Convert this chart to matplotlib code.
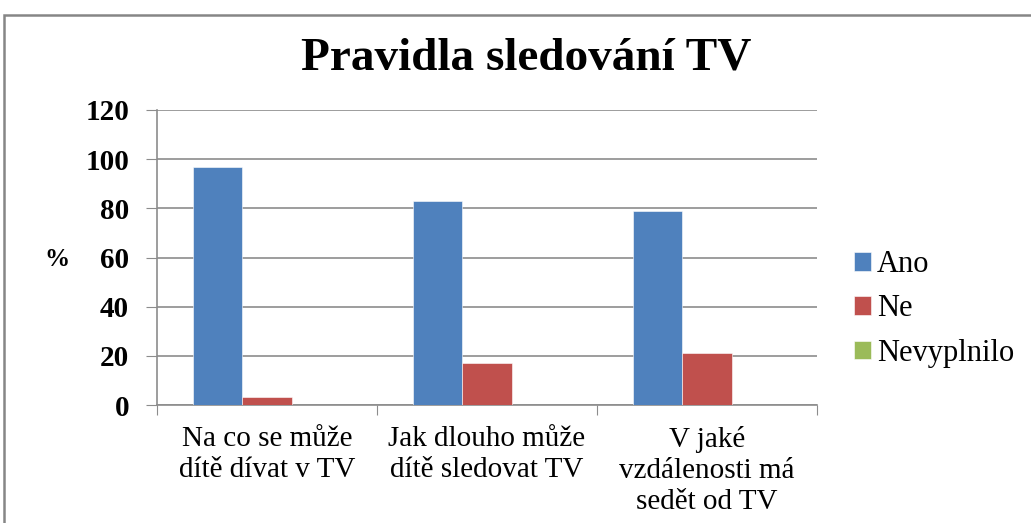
import matplotlib.pyplot as plt
import numpy as np
from matplotlib.patches import Rectangle

# data
categories = ['Na co se může\ndítě dívat v TV',
              'Jak dlouho může\ndítě sledovat TV',
              'V jaké\nvzdálenosti má\nsedět od TV']
series = ['Ano', 'Ne', 'Nevyplnilo']
ano = [96.7, 83, 79]
ne = [3.3, 17, 21]
nevyplnilo = [0, 0, 0]
colors = ['#4F81BD', '#C0504D', '#9BBB59']

plt.rcParams['font.family'] = ['Liberation Serif', 'DejaVu Serif']

W, H = 1031, 523
fig = plt.figure(figsize=(W / 100, H / 100), dpi=100)
ax = fig.add_axes([157 / W, 1 - 405 / H, 660 / W, 295 / H])

x = np.arange(len(categories))
w = 0.225
for i, (vals, name) in enumerate(zip([ano, ne, nevyplnilo], series)):
    ax.bar(x + (i - 1) * w, vals, w, color=colors[i], label=name,
           edgecolor='white', linewidth=0.4, zorder=3)

ax.set_xlim(-0.5, 2.5)
ax.set_ylim(0, 120)
ax.set_yticks(np.arange(0, 121, 20))
ax.set_yticklabels([str(v) for v in range(0, 121, 20)], fontsize=21, fontweight='bold')
ax.yaxis.grid(True, color='#8c8c8c', linewidth=1.2, zorder=0)
ax.tick_params(axis='y', length=8, color='#8c8c8c', pad=12)

ax.set_xticks([-0.5, 0.5, 1.5, 2.5])
ax.set_xticklabels([])
ax.tick_params(axis='x', length=7, color='#8c8c8c', direction='out')
ax.set_xticks(x, minor=True)
ax.set_xticklabels(categories, minor=True, fontsize=21, linespacing=1.25)
ax.tick_params(axis='x', which='minor', length=0, pad=15)

for s in ['top', 'right']:
    ax.spines[s].set_visible(False)
for s in ['left', 'bottom']:
    ax.spines[s].set_color('#8c8c8c')
    ax.spines[s].set_linewidth(1.2)

fig.text(57 / W, 1 - 259 / H, '%', fontsize=18, fontweight='bold', ha='center', va='center')
fig.text(526 / W, 1 - 58 / H, 'Pravidla sledování TV', fontsize=34, fontweight='bold',
         ha='center', va='center')

fig.legend(loc='center left', bbox_to_anchor=(854 / W, 1 - 309 / H), frameon=False,
           fontsize=22, handlelength=0.55, handleheight=0.55, handletextpad=0.2,
           labelspacing=0.5, borderpad=0, borderaxespad=0)

fig.patches.append(Rectangle((4 / W, -0.1), 1.2, 1.1 - 15 / H, transform=fig.transFigure,
                             fill=False, edgecolor='#868686', linewidth=1.8))

fig.savefig('out.png', dpi=100)
